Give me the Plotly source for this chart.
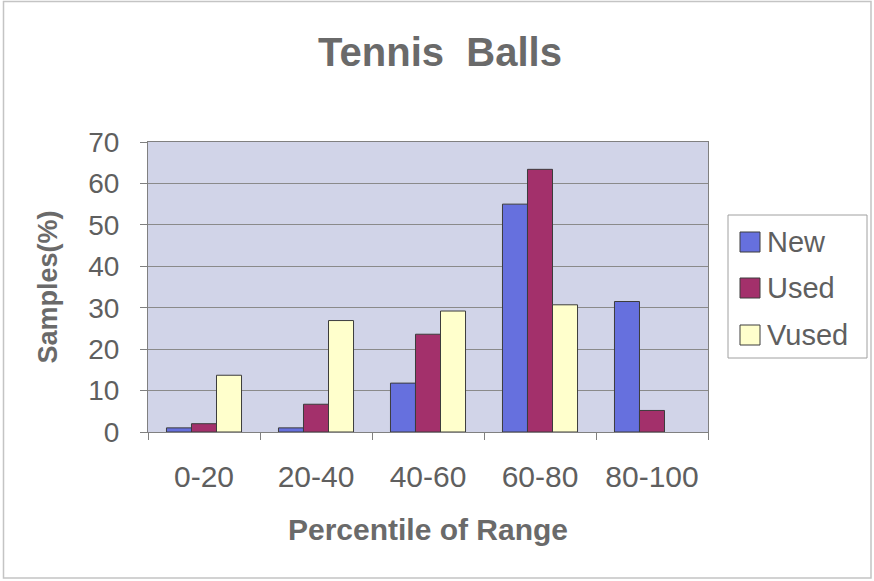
import plotly.graph_objects as go

# Sample distribution of tennis balls by percentile of range
categories = ["0-20", "20-40", "40-60", "60-80", "80-100"]
new_vals = [1.0, 1.0, 11.8, 55.0, 31.5]
used_vals = [2.0, 6.7, 23.6, 63.4, 5.2]
vused_vals = [13.7, 26.9, 29.2, 30.7, None]

series_names = ["New", "Used", "Vused"]
series_vals = [new_vals, used_vals, vused_vals]
series_colors = ["#6670DE", "#A3306B", "#FFFFCC"]

y_ticks = [0, 10, 20, 30, 40, 50, 60, 70]

FONT = "Liberation Sans, Arial, sans-serif"
TEXT_GRAY = "#5f5f5f"
EDGE = "#3c3c3c"

# figure / plot-area geometry in pixels
W, H = 874, 581
PL, PR, PT, PB = 148, 708, 142, 432


def px_x(x):
    return (x - PL) / (PR - PL)


def px_y(y):
    return (PB - y) / (PB - PT)


fig = go.Figure()
for name, vals, color in zip(series_names, series_vals, series_colors):
    fig.add_trace(go.Bar(
        x=categories, y=vals, name=name,
        marker=dict(color=color, line=dict(color=EDGE, width=1)),
        showlegend=False,
    ))

shapes = []
annotations = []

# outer chart frame
shapes.append(dict(type="rect", xref="paper", yref="paper",
                   x0=px_x(3.5), x1=px_x(871), y0=px_y(1.5), y1=px_y(578),
                   line=dict(color="#c4c4c4", width=1.5), fillcolor="rgba(0,0,0,0)",
                   layer="below"))

# legend box with a swatch and label for each series
shapes.append(dict(type="rect", xref="paper", yref="paper",
                   x0=px_x(728), x1=px_x(867), y0=px_y(215), y1=px_y(358),
                   line=dict(color="#a0a0a0", width=1), fillcolor="white"))
row_centers = [242, 288, 335]
for name, color, cy in zip(series_names, series_colors, row_centers):
    shapes.append(dict(type="rect", xref="paper", yref="paper",
                       x0=px_x(740), x1=px_x(760), y0=px_y(cy - 10), y1=px_y(cy + 10),
                       line=dict(color=EDGE, width=1), fillcolor=color))
    annotations.append(dict(text=name, xref="paper", yref="paper",
                            x=px_x(765), y=px_y(cy), xanchor="left", yanchor="middle",
                            showarrow=False,
                            font=dict(family=FONT, size=29, color=TEXT_GRAY)))

fig.update_layout(
    width=W, height=H,
    margin=dict(l=PL, r=W - PR, t=PT, b=H - PB, pad=0),
    paper_bgcolor="white",
    plot_bgcolor="#D1D4E8",
    barmode="group",
    bargap=0.33,
    bargroupgap=0.0,
    title=dict(text="Tennis&nbsp;&nbsp;Balls", x=440 / W, xref="container",
               xanchor="center", y=1 - 52 / H, yanchor="middle",
               font=dict(family=FONT, size=40, color="#6a6a6a", weight="bold")),
    font=dict(family=FONT, color=TEXT_GRAY),
    shapes=shapes,
    annotations=annotations,
    xaxis=dict(
        showline=True, linecolor="#808080", linewidth=1, mirror=True,
        ticks="outside", ticklen=7, tickcolor="#808080", tickson="boundaries",
        tickfont=dict(family=FONT, size=30, color=TEXT_GRAY),
        ticklabelstandoff=18,
        title=dict(text="Percentile of Range", standoff=26,
                   font=dict(family=FONT, size=30, color="#6a6a6a", weight="bold")),
        showgrid=False,
    ),
    yaxis=dict(
        range=[0, 70], tickvals=y_ticks,
        showline=True, linecolor="#808080", linewidth=1, mirror=True,
        ticks="outside", ticklen=7, tickcolor="#808080",
        tickfont=dict(family=FONT, size=28, color=TEXT_GRAY),
        ticklabelstandoff=15,
        showgrid=True, gridcolor="#8a8a8a", gridwidth=1,
        zeroline=False,
        title=dict(text="Samples(%)", standoff=22,
                   font=dict(family=FONT, size=27, color="#6a6a6a", weight="bold")),
    ),
)

fig.write_html("out.html")
